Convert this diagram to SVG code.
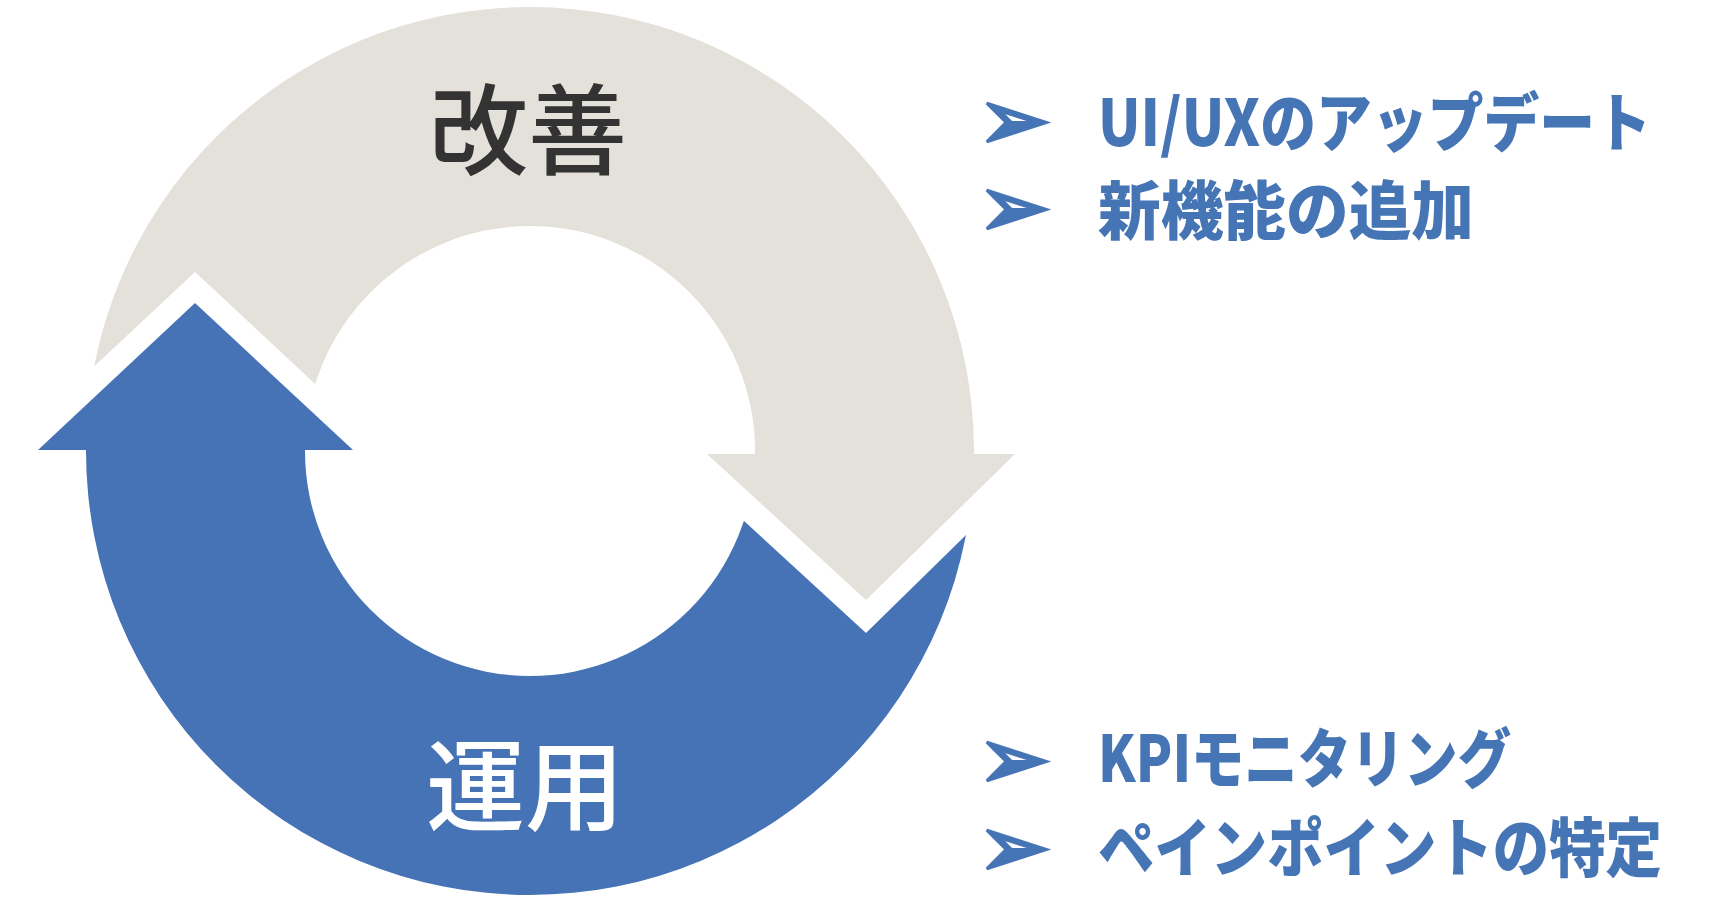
<svg xmlns="http://www.w3.org/2000/svg" width="1715" height="898" viewBox="0 0 1715 898">
  <style>
    .gray { fill: #E4E0DA; }
    .blue { fill: #4573B5; }
    .big { font-family: "Noto Sans CJK JP", sans-serif; font-size: 99px; font-weight: 500; text-anchor: middle; }
    .item { font-family: "Noto Sans CJK JP", sans-serif; font-size: 64px; font-weight: 900; fill: #4675B6; }
    .bullet { font-family: "DejaVu Sans", sans-serif; font-size: 88px; fill: #4675B6; stroke: #4675B6; stroke-width: 3; stroke-linejoin: miter; }
  </style>
  <defs>
    <path id="ring" fill-rule="evenodd" d="M 86 451 A 444 444 0 1 0 974 451 A 444 444 0 1 0 86 451 Z M 305 451 A 225 225 0 1 0 755 451 A 225 225 0 1 0 305 451 Z"/>
    <clipPath id="topHalf"><rect x="0" y="0" width="1715" height="454"/></clipPath>
    <clipPath id="bottomHalf"><rect x="0" y="450" width="1715" height="448"/></clipPath>
    <mask id="grayNotch" maskUnits="userSpaceOnUse" x="0" y="0" width="1715" height="898">
      <rect x="0" y="0" width="1715" height="898" fill="#fff"/>
      <polygon points="195,272 511,566 -119,566" fill="#000"/>
    </mask>
    <mask id="blueNotch" maskUnits="userSpaceOnUse" x="0" y="0" width="1715" height="898">
      <rect x="0" y="0" width="1715" height="898" fill="#fff"/>
      <polygon points="866,633 1164,341 548,341" fill="#000"/>
    </mask>
  </defs>
  <rect x="0" y="0" width="1715" height="898" fill="#fff"/>

  <g id="node-kaizen">
    <g mask="url(#grayNotch)">
      <use href="#ring" class="gray" clip-path="url(#topHalf)"/>
    </g>
    <polygon class="gray" points="707,454 1015,454 866,600"/>
    <text class="big" x="528" y="167" fill="#333333">改善</text>
  </g>

  <g id="node-unyou">
    <g mask="url(#blueNotch)">
      <use href="#ring" class="blue" clip-path="url(#bottomHalf)"/>
    </g>
    <polygon class="blue" points="38,450 353,450 195,303"/>
    <text class="big" x="525" y="823" fill="#ffffff">運用</text>
  </g>

  <g id="connectors"></g>

  <g id="list-kaizen">
    <text class="bullet" x="977" y="150">➢</text>
    <text class="item" x="1098" y="146" textLength="553" lengthAdjust="spacingAndGlyphs">UI/UXのアップデート</text>
    <text class="bullet" x="977" y="237">➢</text>
    <text class="item" x="1098" y="234" textLength="376" lengthAdjust="spacingAndGlyphs">新機能の追加</text>
  </g>

  <g id="list-unyou">
    <text class="bullet" x="977" y="789">➢</text>
    <text class="item" x="1098" y="782" textLength="413" lengthAdjust="spacingAndGlyphs">KPIモニタリング</text>
    <text class="bullet" x="977" y="877">➢</text>
    <text class="item" x="1098" y="871" textLength="564" lengthAdjust="spacingAndGlyphs">ペインポイントの特定</text>
  </g>
</svg>
